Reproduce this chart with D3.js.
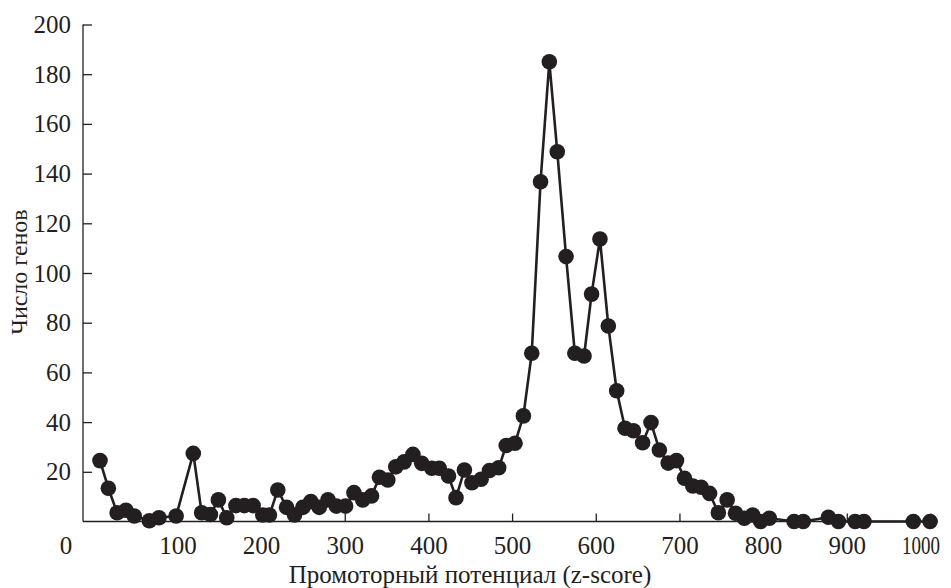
<!DOCTYPE html>
<html>
<head>
<meta charset="utf-8">
<script src="https://cdn.jsdelivr.net/npm/d3@7"></script>
<style>
  html, body { margin: 0; padding: 0; background: #fff; }
  svg { display: block; }
  text { font-family: "Liberation Serif", "Times New Roman", serif; fill: #231f20; }
</style>
</head>
<body>
<svg id="chart" width="951" height="588"></svg>
<script>
// z-score bin centres
const zScore = [7.5, 17.5, 28, 38.5, 48.5, 66.5, 78, 98.5, 119, 129, 139.5, 149, 159, 170, 180, 190.5,
  202, 210, 220, 230.5, 240, 250, 259.5, 269.5, 280, 290, 301, 311, 321.5, 332, 341.5, 351.5,
  361, 371, 381.5, 392, 404, 413, 424, 433, 443, 452, 463, 473, 484, 493, 503.5, 513.5,
  523.5, 534, 544.5, 554, 564.5, 575, 586, 595, 605, 615, 625, 635, 645, 656, 666, 676,
  686.5, 696.5, 706, 716, 726, 736, 746.5, 757, 767, 777.5, 787.5, 797, 807.5, 837, 848,
  878, 890, 910, 920.5, 979.5, 999.5];
// gene counts
const geneCount = [24.5, 13.4, 3.5, 4.5, 2.2, 0.3, 1.5, 2.2, 27.4, 3.5, 2.8, 8.7, 1.5, 6.4, 6.4, 6.4,
  2.6, 2.6, 12.7, 5.7, 2.6, 5.7, 8, 5.7, 8.7, 6.2, 6.2, 11.6, 8.7, 10.3, 17.8, 16.7,
  22, 24, 27, 23.4, 21.4, 21.4, 18.3, 9.6, 20.7, 15.6, 17, 20.5, 21.6, 30.6, 31.5, 42.5,
  67.7, 136.7, 185, 148.8, 106.6, 67.7, 66.6, 91.5, 113.7, 78.7, 52.6, 37.5, 36.5, 31.7, 39.8, 28.8,
  23.5, 24.5, 17.4, 14.3, 13.8, 11.3, 3.5, 8.7, 3.3, 1.3, 2.6, 0, 1.3, 0, 0,
  1.7, 0, 0, 0, 0, 0];
const xTicks = [0, 100, 200, 300, 400, 500, 600, 700, 800, 900, 1000];
const yTicks = [20, 40, 60, 80, 100, 120, 140, 160, 180, 200];
const xTitle = "Промоторный потенциал (z-score)";
const yTitle = "Число генов";

const data = zScore.map((z, i) => ({ x: z, y: geneCount[i] }));
const ink = "#231f20";

const svg = d3.select("#chart");
const x = d3.scaleLinear().domain([-12.8, 1009]).range([83, 938]);
const y = d3.scaleLinear().domain([0, 200]).range([521.5, 24.5]);

// X axis (ticks inward)
const gx = svg.append("g").attr("transform", `translate(0,${y(0)})`)
  .call(d3.axisBottom(x).tickValues(xTicks.filter(d => d > 0)).tickFormat(d3.format("d"))
    .tickSizeInner(-8).tickSizeOuter(0).tickPadding(24));
gx.attr("font-family", null);
gx.select(".domain").attr("stroke", ink).attr("stroke-width", 1.3)
  .attr("d", `M${x.range()[0]},0H${x.range()[1]}`);
gx.selectAll(".tick line").attr("stroke", ink).attr("stroke-width", 1.3);
gx.selectAll(".tick text").attr("font-size", 25).attr("fill", ink)
  .attr("dy", "0.32em").attr("y", 24)
  .each(function(d) {
    if (d === 1000) d3.select(this).attr("textLength", 38).attr("lengthAdjust", "spacingAndGlyphs").attr("dx", -10);
  });
// corner "0" label
gx.append("text").text(xTicks[0]).attr("x", x.range()[0] - 17).attr("y", 24).attr("dy", "0.32em")
  .attr("text-anchor", "middle").attr("font-size", 25).attr("fill", ink);

// Y axis (ticks inward)
const gy = svg.append("g").attr("transform", `translate(${x.range()[0]},0)`)
  .call(d3.axisLeft(y).tickValues(yTicks).tickSizeInner(-9).tickSizeOuter(0));
gy.attr("font-family", null);
gy.select(".domain").attr("stroke", ink).attr("stroke-width", 1.3)
  .attr("d", `M0,${y(200)}V${y(0)}`);
gy.selectAll(".tick line").attr("stroke", ink).attr("stroke-width", 1.3);
gy.selectAll(".tick text").attr("font-size", 25).attr("fill", ink).attr("x", -12);

// Line
svg.append("path").datum(data)
  .attr("fill", "none").attr("stroke", ink).attr("stroke-width", 2.6).attr("stroke-linejoin", "round")
  .attr("d", d3.line().x(d => x(d.x)).y(d => y(d.y)));

// Markers
svg.append("g").selectAll("circle").data(data).join("circle")
  .attr("cx", d => x(d.x)).attr("cy", d => y(d.y)).attr("r", 7.8).attr("fill", ink);

// Titles
svg.append("text").text(xTitle).attr("x", 470).attr("y", 583)
  .attr("text-anchor", "middle").attr("font-size", 25);
svg.append("text").text(yTitle)
  .attr("transform", `translate(27,${272}) rotate(-90)`)
  .attr("text-anchor", "middle").attr("font-size", 24);
</script>
</body>
</html>
